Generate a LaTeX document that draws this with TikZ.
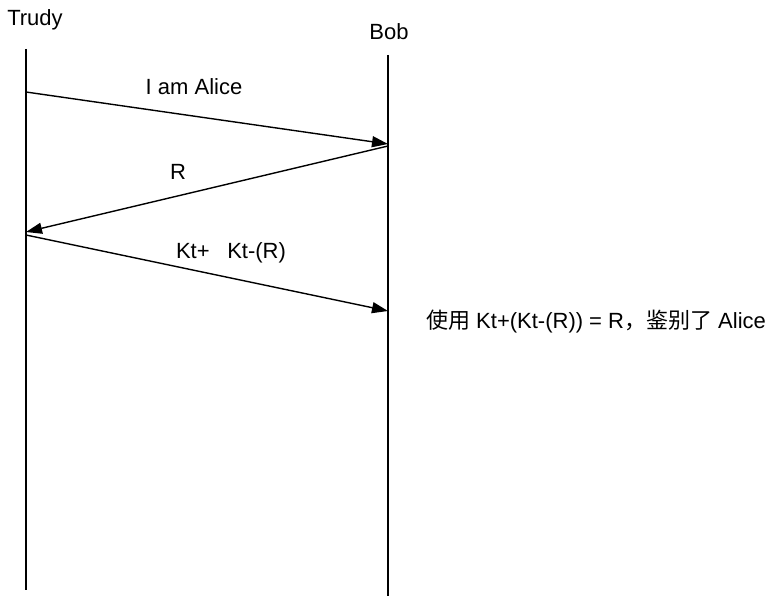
\documentclass[tikz,border=0pt]{standalone}
\usepackage{fontspec}
\setmainfont{Liberation Sans}
\newfontfamily\cjk{Noto Sans CJK SC}
\usetikzlibrary{arrows.meta}
\begin{document}
\begin{tikzpicture}[x=1pt,y=-1pt,
  lbl/.style={font=\fontsize{22}{26}\selectfont, inner sep=0pt},
  life/.style={line width=1.4pt},
  msg/.style={line width=1.4pt,-{Triangle[length=16pt,width=11pt]}}]
\useasboundingbox (0,0) rectangle (772,599);
\node[lbl] (trudy) at (35,20) {Trudy};
\node[lbl] (bob) at (389,32) {Bob};
\coordinate (t0) at (26,49);
\coordinate (t1) at (26,590);
\coordinate (b0) at (388,55);
\coordinate (b1) at (388,596);
\draw[life] (t0) -- (t1);
\draw[life] (b0) -- (b1);
\coordinate (m1s) at (26,92);
\coordinate (m1e) at (388,144);
\coordinate (m2s) at (388,146);
\coordinate (m2e) at (26,232);
\coordinate (m3s) at (26,235);
\coordinate (m3e) at (388,311);
\draw[msg] (m1s) -- (m1e);
\draw[msg] (m2s) -- (m2e);
\draw[msg] (m3s) -- (m3e);
\node[lbl] (l1) at (194,87) {I am Alice};
\node[lbl] (l2) at (178,172) {R};
\node[lbl] (l3) at (231,253) {Kt+\hspace{0.8em}Kt-(R)};
\node[lbl] (note) at (596,322) {{\cjk 使用} Kt+(Kt-(R)) = R{\cjk ，鉴别了} Alice};
\end{tikzpicture}
\end{document}
